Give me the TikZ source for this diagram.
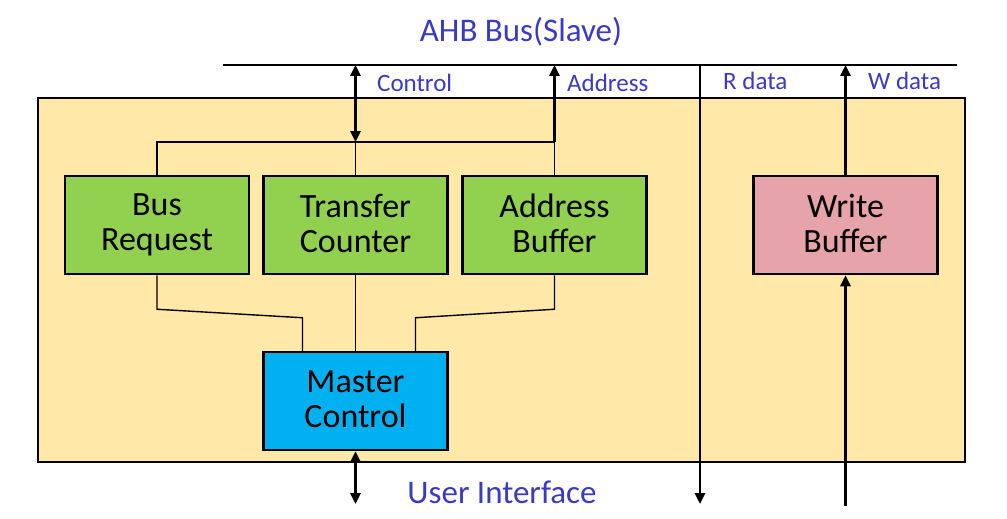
\documentclass[tikz,border=0pt]{standalone}
\usepackage{fontspec}
\setmainfont{Carlito}
\usetikzlibrary{arrows.meta}
\definecolor{chipyellow}{HTML}{FFE8A8}
\definecolor{blockgreen}{HTML}{92D050}
\definecolor{ctrlblue}{HTML}{00B0F0}
\definecolor{bufpink}{HTML}{E6A3AA}
\definecolor{labelblue}{HTML}{3A3AC4}

\begin{document}
\begin{tikzpicture}[x=1pt, y=-1pt,
    block/.style={draw, line width=2.5pt, minimum width=184pt, minimum height=98pt,
      align=center, inner sep=0pt, font=\fontsize{34}{35}\selectfont,
      execute at begin node={\rule{0pt}{31pt}}, execute at end node={\rule[-3pt]{0pt}{3pt}}},
    buslabel/.style={text=labelblue, anchor=base west, inner sep=0pt,
      font=\fontsize{25}{28}\selectfont},
    biglabel/.style={text=labelblue, inner sep=0pt, font=\fontsize{33}{36}\selectfont},
    wire/.style={line width=1.4pt},
    port/.style={line width=2.6pt, -{Triangle[length=11pt,width=10pt]}},
    dport/.style={line width=2.6pt, {Triangle[length=11pt,width=10pt]}-{Triangle[length=11pt,width=10pt]}}]
  \useasboundingbox (0,0) rectangle (1007,519);
  % Slave block
  \node[draw, fill=chipyellow, line width=2.5pt, minimum width=927pt, minimum height=364pt] (chip) at (501.5,280) {};
  % Bus
  \coordinate (bus w) at (223,65);
  \coordinate (bus e) at (957,65);
  \draw[line width=1.5pt] (bus w) -- (bus e);
  \node[biglabel] (ahb) at (521,32) {AHB Bus(Slave)};
  % Blocks
  \node[block, fill=blockgreen] (busreq) at (157,225) {Bus\\Request};
  \node[block, fill=blockgreen] (xfer) at (355.5,225) {Transfer\\Counter};
  \node[block, fill=blockgreen] (addrbuf) at (554.5,225) {Address\\Buffer};
  \node[block, fill=bufpink] (wbuf) at (845.5,225) {Write\\Buffer};
  \node[block, fill=ctrlblue] (master) at (355.5,401) {Master\\Control};
  % Upper fan
  \coordinate (addr tap) at (554.5,142);
  \draw[wire] (busreq.north) |- (addr tap) -- (addrbuf.north);
  \draw[wire] (xfer.north) -- (xfer.north |- addr tap);
  \draw[dport] (xfer.north |- bus w) -- (xfer.north |- addr tap);
  \draw[port] (addr tap) -- (addr tap |- bus w);
  % Lower fan
  \draw[wire] (busreq.south) -- ++(0,34) -- ([xshift=-53pt,yshift=33pt]master.north) -- ([xshift=-53pt]master.north);
  \draw[wire] (xfer.south) -- (master.north);
  \draw[wire] (addrbuf.south) -- ++(0,34) -- ([xshift=60pt,yshift=33pt]master.north) -- ([xshift=60pt]master.north);
  % Data paths
  \coordinate (rd top) at (700,65);
  \coordinate (rd end) at (700,504);
  \draw[port] (rd top) -- (rd end);
  \coordinate (wd in) at (845.5,506);
  \draw[port] (wd in) -- (wbuf.south);
  \draw[port] (wbuf.north) -- (wbuf.north |- bus w);
  \coordinate (ui end) at (355.5,504);
  \draw[dport] (master.south) -- (ui end);
  % Labels
  \node[buslabel] (ctl lbl) at (377,92) {Control};
  \node[buslabel] (addr lbl) at (567,92) {Address};
  \node[buslabel] (rd lbl) at (723,89) {R data};
  \node[buslabel] (wd lbl) at (868,89) {W data};
  \node[biglabel] (ui lbl) at (502,492) {User Interface};
\end{tikzpicture}
\end{document}
